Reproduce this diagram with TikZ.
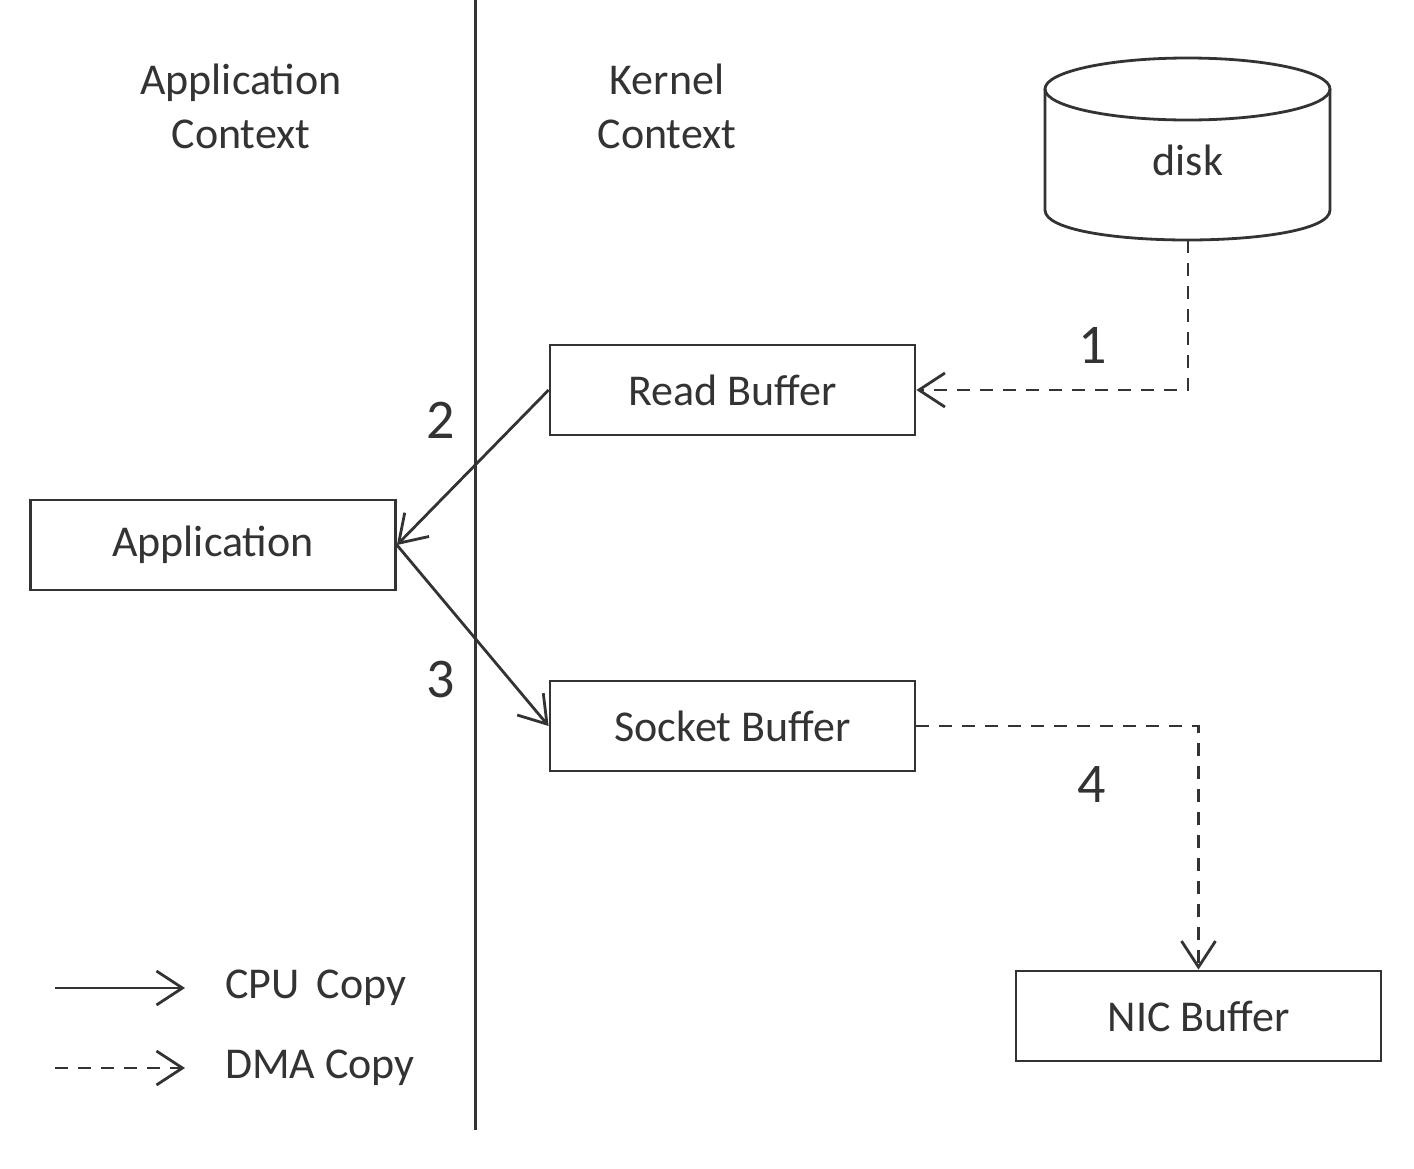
\documentclass[tikz,border=0pt]{standalone}
\usepackage{fontspec}
\setmainfont{Carlito}
\usetikzlibrary{arrows.meta}
\definecolor{ink}{HTML}{333333}
\begin{document}
\begin{tikzpicture}[x=0.5pt,y=-0.5pt,
  every node/.style={text=ink},
  lbl/.style={font=\fontsize{22}{27}\selectfont, align=center},
  num/.style={font=\fontsize{28}{30}\selectfont},
  boxnode/.style={draw=ink, line width=1.4pt, minimum width=182.5pt, minimum height=45pt, inner sep=0pt, font=\fontsize{22}{26}\selectfont},
  tip/.style={-{Straight Barb[length=13pt,width=17pt,line width=1.4pt]}},
  cpu/.style={draw=ink, line width=1.4pt, tip},
  dma/.style={draw=ink, line width=1.4pt, dash pattern=on 6.5pt off 5pt, tip}]
\useasboundingbox (0,0) rectangle (1414,1168);
\fill[white] (0,0) rectangle (1414,1168);
% divider
\coordinate (divtop) at (475,0);
\coordinate (divbot) at (475,1130);
\draw[ink, line width=1.5pt] (divtop) -- (divbot);
% context labels
\node[lbl] (appctx) at (241,106) {Application\\Context};
\node[lbl] (kerctx) at (667,106) {Kernel\\Context};
% disk cylinder
\draw[ink, line width=1.4pt, fill=white] (1045,89) -- (1045,210) .. controls (1045,250) and (1330,250) .. (1330,210) -- (1330,89);
\draw[ink, line width=1.4pt] (1187.5,89) ellipse [x radius=71.25pt, y radius=15.5pt];
\node[font=\fontsize{22}{26}\selectfont] (disk) at (1188,160) {disk};
\coordinate (diskb) at (1188,240);
% boxes
\node[boxnode] (rb) at (732.5,390) {Read Buffer};
\node[boxnode] (app) at (213,545) {Application};
\node[boxnode] (sb) at (732.5,726) {Socket Buffer};
\node[boxnode] (nic) at (1198.5,1016) {NIC Buffer};
% connectors
\draw[dma] (diskb) |- (rb.east);
\draw[cpu] (rb.west) -- (app.east);
\draw[cpu] (app.east) -- (sb.west);
\draw[dma] (sb.east) -| (nic.north);
% numbers
\node[num] (n1) at (1093,345) {1};
\node[num] (n2) at (441,420) {2};
\node[num] (n3) at (441,680) {3};
\node[num] (n4) at (1092,785) {4};
% legend
\coordinate (l1a) at (55,988);
\coordinate (l1b) at (185,988);
\coordinate (l2a) at (55,1068);
\coordinate (l2b) at (185,1068);
\draw[cpu] (l1a) -- (l1b);
\draw[dma] (l2a) -- (l2b);
\node[lbl, anchor=west] (cpucopy) at (218,988) {CPU\ \,Copy};
\node[lbl, anchor=west] (dmacopy) at (218,1068) {DMA Copy};
\end{tikzpicture}
\end{document}
